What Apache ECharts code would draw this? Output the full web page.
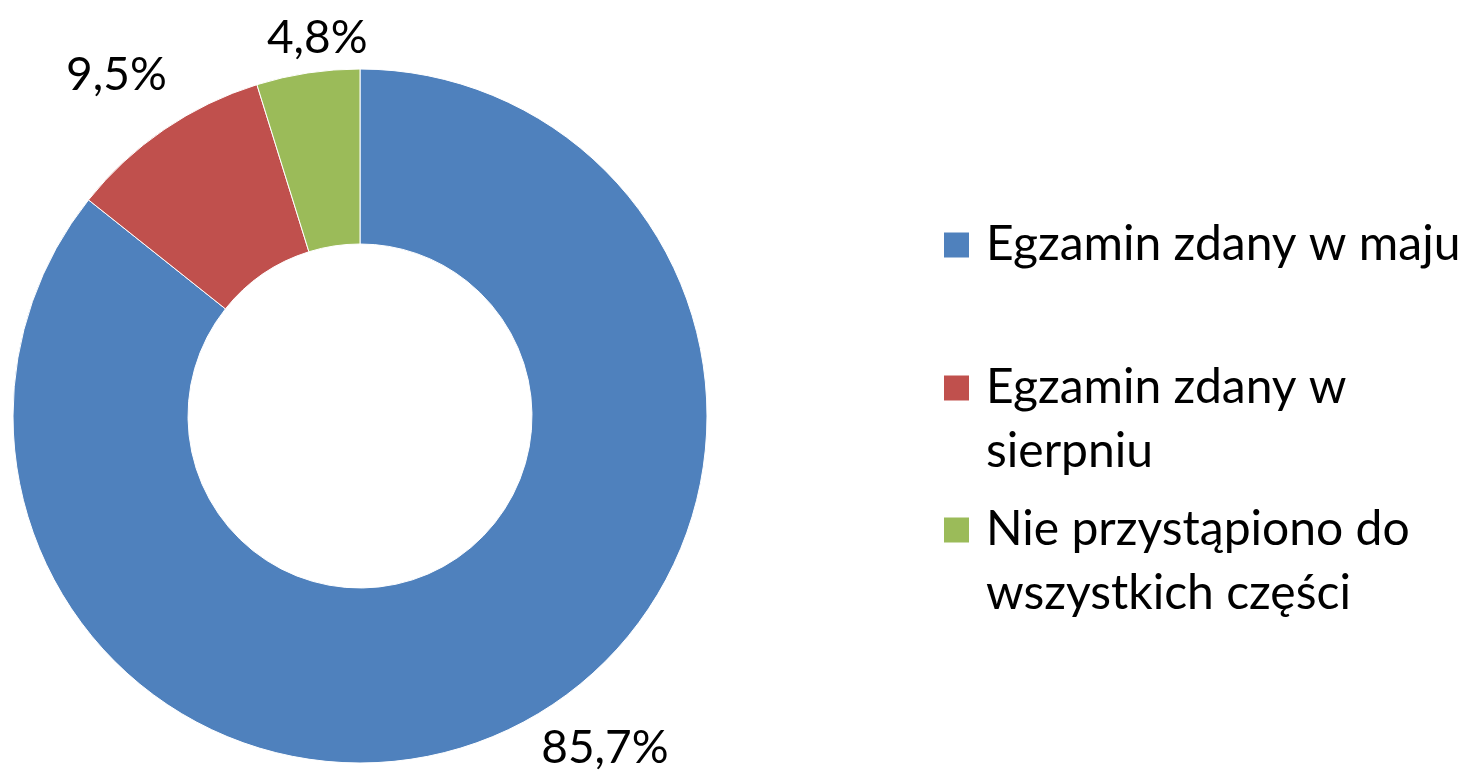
<!DOCTYPE html>
<html>
<head>
<meta charset="utf-8">
<script src="https://cdn.jsdelivr.net/npm/echarts@6/dist/echarts.min.js"></script>
<style>
  html, body { margin: 0; padding: 0; background: #fff; }
  #chart { width: 1474px; height: 773px; }
</style>
</head>
<body>
<div id="chart"></div>
<script>
// dane wykresu
var categories = ["Egzamin zdany w maju", "Egzamin zdany w sierpniu", "Nie przystąpiono do wszystkich części"];
var legendText = ["Egzamin zdany w maju", "\nEgzamin zdany w\nsierpniu", "\nNie przystąpiono do\nwszystkich części"];
var values = [85.7, 9.5, 4.8];
var colors = ["#4F81BD", "#C0504D", "#9BBB59"];

var fontFamily = "Lato, 'Open Sans', sans-serif";

// dlugosci linii etykiet (linie niewidoczne, tylko do ustawienia etykiet)
var lineLen = [22, 66, 35];
var lineLen2 = [16, -45, -70];

var chart = echarts.init(document.getElementById("chart"));

var seriesData = categories.map(function (name, i) {
  return {
    name: name,
    value: values[i],
    itemStyle: { color: colors[i] },
    labelLine: { show: false, length: lineLen[i], length2: lineLen2[i] }
  };
});

// osobna legenda dla kazdej pozycji, bo odstepy nie sa rowne
var legendTops = [213, 292, 434];
var legends = categories.map(function (name, i) {
  return {
    orient: "vertical",
    left: 942,
    top: legendTops[i],
    padding: 0,
    data: [name],
    icon: "rect",
    itemWidth: 27,
    itemHeight: 27,
    selectedMode: false,
    formatter: function () { return legendText[i]; },
    textStyle: {
      fontFamily: fontFamily,
      fontSize: 48,
      lineHeight: 64,
      color: "#000",
      padding: [0, 0, 0, 11]
    }
  };
});

chart.setOption({
  animation: false,
  legend: legends,
  series: [
    {
      type: "pie",
      center: [360, 416],
      radius: [172, 347],
      startAngle: 90,
      clockwise: true,
      avoidLabelOverlap: false,
      itemStyle: { borderColor: "#fff", borderWidth: 1 },
      label: {
        show: true,
        position: "outside",
        fontFamily: fontFamily,
        fontSize: 46,
        color: "#000",
        formatter: function (p) {
          return p.value.toFixed(1).replace(".", ",") + "%";
        }
      },
      labelLine: { show: false },
      emphasis: { disabled: true },
      data: seriesData
    }
  ]
});
</script>
</body>
</html>
